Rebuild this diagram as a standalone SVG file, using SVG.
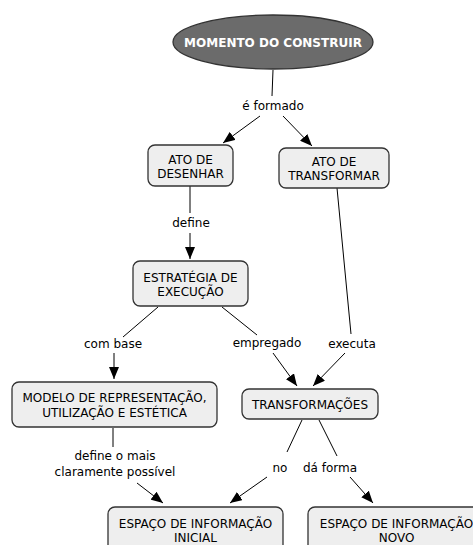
<svg xmlns="http://www.w3.org/2000/svg" width="473" height="545" viewBox="0 0 473 545">
  <defs>
    <marker id="arrow" viewBox="0 0 12 10" refX="12" refY="5" markerWidth="12" markerHeight="10" markerUnits="userSpaceOnUse" orient="auto">
      <path d="M0,0 L12,5 L0,10 z" fill="#000"/>
    </marker>
    <style>
      .box { fill: #eeeeee; stroke: #333333; stroke-width: 1.3; }
      .lbl { font-family: "DejaVu Sans", Verdana, sans-serif; font-size: 12px; fill: #000; text-anchor: middle; }
      .ntx { font-family: "DejaVu Sans", Verdana, sans-serif; font-size: 12px; fill: #000; text-anchor: middle; }
      .ln { stroke: #000; stroke-width: 1; fill: none; }
      .arr { stroke: #000; stroke-width: 1; fill: none; marker-end: url(#arrow); }
    </style>
  </defs>
  <rect width="473" height="545" fill="#ffffff"/>

  <g id="connectors">
    <line class="ln" x1="273" y1="70" x2="272" y2="96"/>
    <text class="lbl" x="273" y="110">é formado</text>
    <line class="arr" x1="260" y1="116" x2="223" y2="143"/>
    <line class="arr" x1="283" y1="116" x2="312" y2="146"/>

    <line class="ln" x1="190" y1="186" x2="190" y2="213"/>
    <text class="lbl" x="191" y="227">define</text>
    <line class="arr" x1="190" y1="233" x2="190" y2="259"/>

    <line class="ln" x1="337" y1="188" x2="351" y2="334"/>
    <text class="lbl" x="352" y="348">executa</text>
    <line class="arr" x1="345" y1="353" x2="313" y2="386"/>

    <line class="ln" x1="158" y1="307" x2="123" y2="337"/>
    <text class="lbl" x="113" y="348">com base</text>
    <line class="arr" x1="114" y1="353" x2="114" y2="379"/>

    <line class="ln" x1="222" y1="307" x2="257" y2="335"/>
    <text class="lbl" x="267" y="347">empregado</text>
    <line class="arr" x1="273" y1="353" x2="297" y2="386"/>

    <line class="ln" x1="113" y1="428" x2="113" y2="447"/>
    <text class="lbl" x="115" y="460">define o mais</text>
    <text class="lbl" x="115" y="476">claramente possível</text>
    <line class="arr" x1="137" y1="483" x2="163" y2="503"/>

    <line class="ln" x1="302" y1="420" x2="287" y2="452"/>
    <text class="lbl" x="280" y="472">no</text>
    <line class="arr" x1="267" y1="477" x2="230" y2="503"/>

    <line class="ln" x1="319" y1="420" x2="337" y2="456"/>
    <text class="lbl" x="330" y="472">dá forma</text>
    <line class="arr" x1="350" y1="477" x2="373" y2="503"/>
  </g>

  <g id="momento-do-construir">
    <ellipse cx="273" cy="42" rx="100" ry="27" fill="#6b6b6b" stroke="#333333" stroke-width="1.3"/>
    <text class="ntx" x="273" y="47" style="fill:#ffffff;font-weight:bold">MOMENTO DO CONSTRUIR</text>
  </g>

  <g id="ato-de-desenhar">
    <rect class="box" x="148" y="145" width="85" height="41" rx="7"/>
    <text class="ntx" x="190.5" y="164">ATO DE</text>
    <text class="ntx" x="190.5" y="178">DESENHAR</text>
  </g>

  <g id="ato-de-transformar">
    <rect class="box" x="279" y="148" width="110" height="40" rx="7"/>
    <text class="ntx" x="334" y="166">ATO DE</text>
    <text class="ntx" x="334" y="180">TRANSFORMAR</text>
  </g>

  <g id="estrategia-de-execucao">
    <rect class="box" x="133" y="261" width="115" height="45" rx="7"/>
    <text class="ntx" x="190.5" y="282">ESTRATÉGIA DE</text>
    <text class="ntx" x="190.5" y="296">EXECUÇÃO</text>
  </g>

  <g id="modelo-de-representacao">
    <rect class="box" x="12" y="382" width="205" height="45" rx="7"/>
    <text class="ntx" x="114.5" y="402">MODELO DE REPRESENTAÇÃO,</text>
    <text class="ntx" x="114.5" y="417">UTILIZAÇÃO E ESTÉTICA</text>
  </g>

  <g id="transformacoes">
    <rect class="box" x="242" y="389" width="136" height="30" rx="7"/>
    <text class="ntx" x="310" y="409">TRANSFORMAÇÕES</text>
  </g>

  <g id="espaco-inicial">
    <rect class="box" x="108" y="507" width="175" height="50" rx="7"/>
    <text class="ntx" x="195.5" y="528">ESPAÇO DE INFORMAÇÃO</text>
    <text class="ntx" x="195.5" y="542">INICIAL</text>
  </g>

  <g id="espaco-novo">
    <rect class="box" x="308" y="507" width="177" height="50" rx="7"/>
    <text class="ntx" x="396.5" y="528">ESPAÇO DE INFORMAÇÃO</text>
    <text class="ntx" x="396.5" y="542">NOVO</text>
  </g>
</svg>
